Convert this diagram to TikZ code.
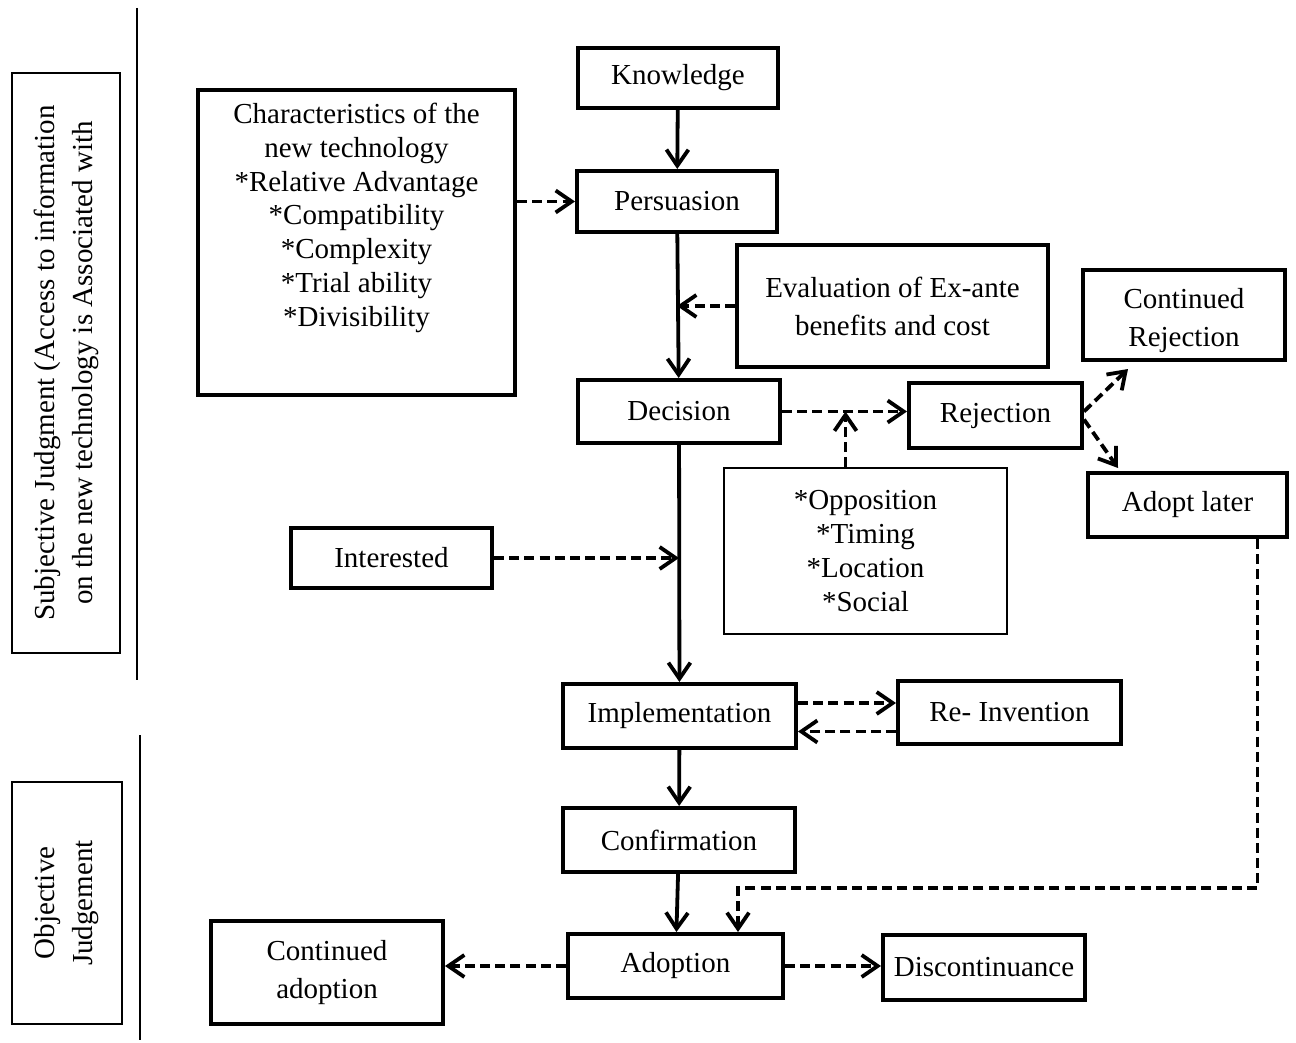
\documentclass[tikz,border=0pt]{standalone}
\usepackage{fontspec}
\setmainfont{Liberation Serif}
\usepackage{tikz}
\usetikzlibrary{arrows.meta,positioning}

\newcommand{\boxfont}{\fontsize{14.5}{19}\selectfont}
\newcommand{\listfont}{\fontsize{14.5}{16.9}\selectfont}

\tikzset{
  stage/.style={draw, line width=2pt, align=center, inner sep=2pt, font=\boxfont},
  plainbox/.style={draw, line width=0.8pt, align=center, font=\boxfont},
  flow/.style={line width=1.9pt, -{Straight Barb[length=8pt,width=11pt]}},
  dflow/.style={flow, dash pattern=on 5pt off 2.6pt},
}

\begin{document}
\begin{tikzpicture}[x=0.5pt, y=-0.5pt]
  \useasboundingbox (0,0) rectangle (1296,1043);

  % Define nodes
  \node[stage, minimum width=100pt, minimum height=30pt]   (know)   at (678,78)     {Knowledge};
  \node[stage, minimum width=100pt, minimum height=30.5pt] (pers)   at (677,201.5)  {Persuasion};
  \node[stage, minimum width=101pt, minimum height=31.5pt] (dec)    at (679,411.5)  {Decision};
  \node[stage, minimum width=116.5pt, minimum height=32pt] (impl)   at (679.5,716)  {Implementation};
  \node[stage, minimum width=116pt, minimum height=32pt]   (conf)   at (679,840)    {Confirmation};
  \node[stage, minimum width=107.5pt, minimum height=32pt] (adopt)  at (675.5,966)  {Adoption};

  \node[stage, minimum width=158.5pt, minimum height=152.5pt] (chars) at (356.5,242.5) {};
  \node[font=\listfont, align=center, below=4pt of chars.north] (charstxt)
    {Characteristics of the\\new technology\\*Relative Advantage\\*Compatibility\\*Complexity\\*Trial ability\\*Divisibility};

  \node[stage, minimum width=155.5pt, minimum height=61pt] (eval)    at (892.5,306)  {Evaluation of Ex-ante\\benefits and cost};
  \node[stage, minimum width=101pt, minimum height=45pt]   (contrej) at (1184,315)   {};
  \node[font=\boxfont, align=center] (contrejtxt) at (1184,321) {Continued\\Rejection};
  \node[stage, minimum width=86.5pt, minimum height=32.5pt] (rej)    at (995.5,415.5) {Rejection};
  \node[stage, minimum width=99.5pt, minimum height=32pt]  (adoptl)  at (1187.5,505)  {Adopt later};
  \node[plainbox, font=\listfont, minimum width=141.5pt, minimum height=83pt] (opp) at (865.5,551)
    {*Opposition\\*Timing\\*Location\\*Social};
  \node[stage, minimum width=100.5pt, minimum height=30pt] (int)     at (391.5,558)  {Interested};
  \node[stage, minimum width=111.5pt, minimum height=31.5pt] (reinv) at (1009.5,712.5) {Re- Invention};
  \node[stage, minimum width=116pt, minimum height=51.5pt] (contad)  at (327,972.5)  {Continued\\adoption};
  \node[stage, minimum width=101pt, minimum height=32.5pt] (discont) at (984,967.5)  {Discontinuance};

  % side labels
  \node[plainbox, rotate=90, minimum width=290pt, minimum height=54pt] (subj) at (66,363)
    {Subjective Judgment (Access to information\\on the new technology is Associated with};
  \node[plainbox, rotate=90, minimum width=121pt, minimum height=55pt] (obj) at (67,903)
    {Objective\\Judgement};
  \draw[line width=1pt] (137,8) -- (137,680);
  \draw[line width=1pt] (140,735) -- (140,1040);

  % connections
  \draw[flow] (know) -- (pers);
  \draw[flow] (pers) -- (dec);
  \draw[flow] (dec) -- (impl);
  \draw[flow] (impl) -- (conf);
  \draw[flow] (conf) -- (adopt);

  \draw[dflow] (chars.east |- pers.west) -- (pers.west);
  \draw[dflow] (eval.west) -- (eval.west -| pers.south);
  \draw[dflow] (dec.east) -- (dec.east -| rej.west);
  \draw[dflow] ([xshift=-10pt]opp.north) -- ([xshift=-10pt]opp.north |- dec.east);
  \draw[dflow] ([yshift=2pt]rej.east) -- ([xshift=23.5pt,yshift=-3.5pt]contrej.south west);
  \draw[dflow] ([yshift=-2pt]rej.east) -- ([xshift=16pt,yshift=1.5pt]adoptl.north west);
  \draw[dflow] (int.east) -- (int.east -| dec.south);
  \draw[dflow] ([yshift=6.5pt]impl.east) -- ([yshift=6.5pt]impl.east -| reinv.west);
  \draw[dflow] ([yshift=-9.5pt]reinv.west) -- ([yshift=-9.5pt]reinv.west -| impl.east);
  \coordinate (back) at (738,888);
  \draw[dflow] ([xshift=35pt]adoptl.south) |- (back) -- (back |- adopt.north);
  \draw[dflow] (adopt.west) -- (adopt.west -| contad.east);
  \draw[dflow] (adopt.east) -- (adopt.east -| discont.west);

\end{tikzpicture}
\end{document}
